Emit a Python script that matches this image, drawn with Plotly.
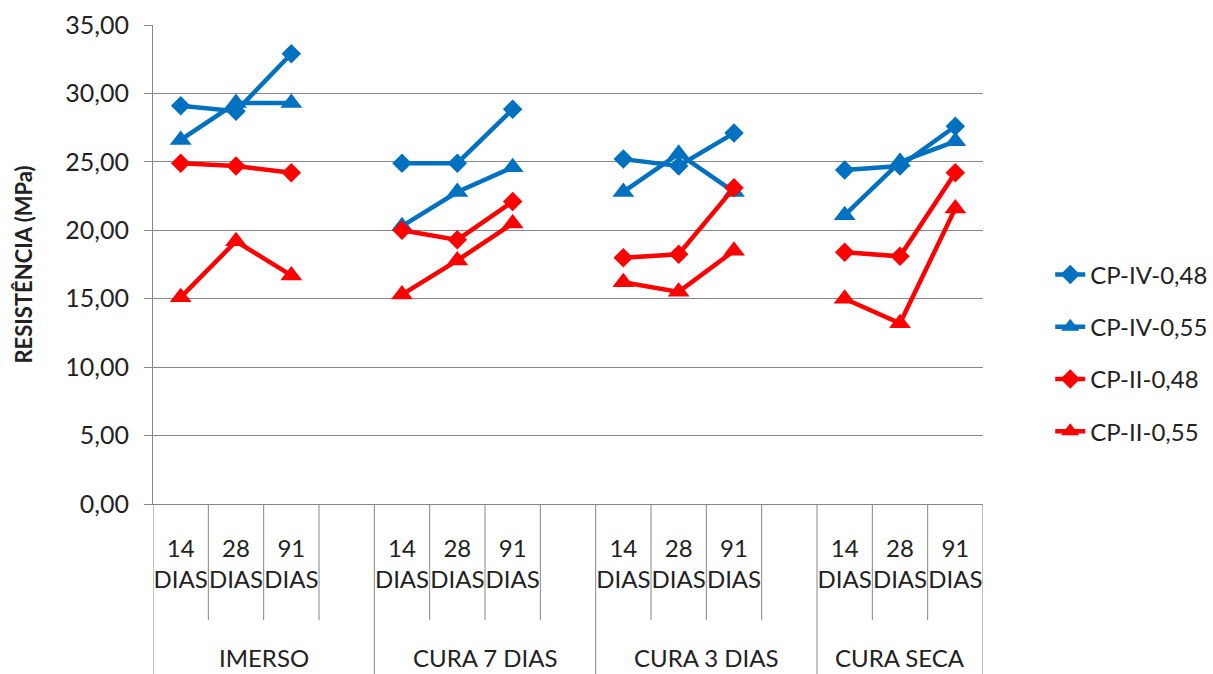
import plotly.graph_objects as go

# Compressive strength by curing regime and age
groups = ["IMERSO", "CURA 7 DIAS", "CURA 3 DIAS", "CURA SECA"]
ages = ["14 DIAS", "28 DIAS", "91 DIAS"]

cp_iv_048 = [[29.1, 28.7, 32.9], [24.9, 24.9, 28.85], [25.2, 24.7, 27.1], [24.4, 24.7, 27.6]]
cp_iv_055 = [[26.6, 29.3, 29.3], [20.3, 22.8, 24.6], [22.8, 25.6, 22.8], [21.1, 25.0, 26.5]]
cp_ii_048 = [[24.9, 24.7, 24.2], [20.0, 19.3, 22.1], [18.0, 18.25, 23.1], [18.4, 18.1, 24.2]]
cp_ii_055 = [[15.1, 19.2, 16.7], [15.3, 17.8, 20.5], [16.2, 15.5, 18.5], [15.0, 13.2, 21.6]]

series = [
    ("CP-IV-0,48", cp_iv_048, "#0070C0", "diamond"),
    ("CP-IV-0,55", cp_iv_055, "#0070C0", "triangle-up"),
    ("CP-II-0,48", cp_ii_048, "#FF0000", "diamond"),
    ("CP-II-0,55", cp_ii_055, "#FF0000", "triangle-up"),
]

# Category slots: each group gets its ages followed by one empty slot (except the last group)
slot_labels = []
slot_group = []
for gi, g in enumerate(groups):
    for a in ages:
        slot_labels.append(a.replace(" ", "<br>"))
        slot_group.append(gi)
    if gi < len(groups) - 1:
        slot_labels.append("")
        slot_group.append(None)
x_slots = list(range(len(slot_labels)))


def flatten(vals):
    out = []
    for gi, gv in enumerate(vals):
        out.extend(gv)
        if gi < len(vals) - 1:
            out.append(None)
    return out


W, H = 1213, 674
ML, MR, MT, MB = 153, 230, 25, 170
plot_h = H - MT - MB
GRID = "#868686"
FONT = "Lato"
TXT = "#222222"


def py(pixel_y):
    """Convert a pixel row of the page to paper coordinates."""
    return (H - MB - pixel_y) / plot_h


fig = go.Figure()
for i, (name, vals, color, sym) in enumerate(series):
    fig.add_trace(go.Scatter(
        x=x_slots, y=flatten(vals), name=name, mode="lines+markers",
        connectgaps=False, legendgroup=f"g{i}",
        line=dict(color=color, width=4.5),
        marker=dict(symbol=sym, size=15 if sym == "diamond" else 19, color=color),
    ))

# Category divider lines below the axis
shapes = []
n = len(x_slots)
group_edges = [-0.5] + [i + 0.5 for i, g in enumerate(slot_group) if g is None] + [n - 0.5]
for b in [k - 0.5 for k in range(n + 1)]:
    long_line = b in group_edges
    shapes.append(dict(
        type="line", xref="x", yref="paper", x0=b, x1=b,
        y0=0, y1=py(H) if long_line else py(620),
        line=dict(color=GRID, width=1),
    ))

annotations = []
for gi, g in enumerate(groups):
    xs = [i for i, sg in enumerate(slot_group) if sg == gi]
    end = xs[-1] + (1 if gi < len(groups) - 1 else 0)
    annotations.append(dict(
        x=(xs[0] + end) / 2, y=py(657), xref="x", yref="paper",
        text=g, showarrow=False, yanchor="middle", xanchor="center",
        font=dict(family=FONT, size=24, color=TXT),
    ))

fig.update_layout(
    width=W, height=H,
    margin=dict(l=ML, r=MR, t=MT, b=MB, autoexpand=False),
    paper_bgcolor="white", plot_bgcolor="white",
    separators=",.",
    font=dict(family=FONT, size=24, color=TXT),
    shapes=shapes, annotations=annotations,
    legend=dict(
        x=1.081, xanchor="left", y=py(353), yanchor="middle",
        font=dict(family=FONT, size=24, color=TXT),
        tracegroupgap=18, traceorder="grouped",
        bgcolor="rgba(0,0,0,0)",
    ),
    xaxis=dict(
        range=[-0.5, n - 0.5], tickmode="array", tickvals=x_slots, ticktext=slot_labels,
        showgrid=False, zeroline=False, showline=True, linecolor=GRID, linewidth=1,
        ticks="", ticklabelstandoff=23, tickangle=0,
        tickfont=dict(family=FONT, size=24, color=TXT),
    ),
    yaxis=dict(
        range=[0, 35], dtick=5, tickformat=".2f",
        showgrid=True, gridcolor=GRID, gridwidth=1,
        zeroline=False, showline=True, linecolor=GRID, linewidth=1,
        ticks="outside", ticklen=8, tickcolor=GRID, ticklabelstandoff=10,
        tickfont=dict(family=FONT, size=25, color=TXT),
        title=dict(text="<b>RESISTÊNCIA (MPa)</b>", standoff=26,
                   font=dict(family=FONT, size=22, color=TXT)),
    ),
)

fig.write_html("out.html")
